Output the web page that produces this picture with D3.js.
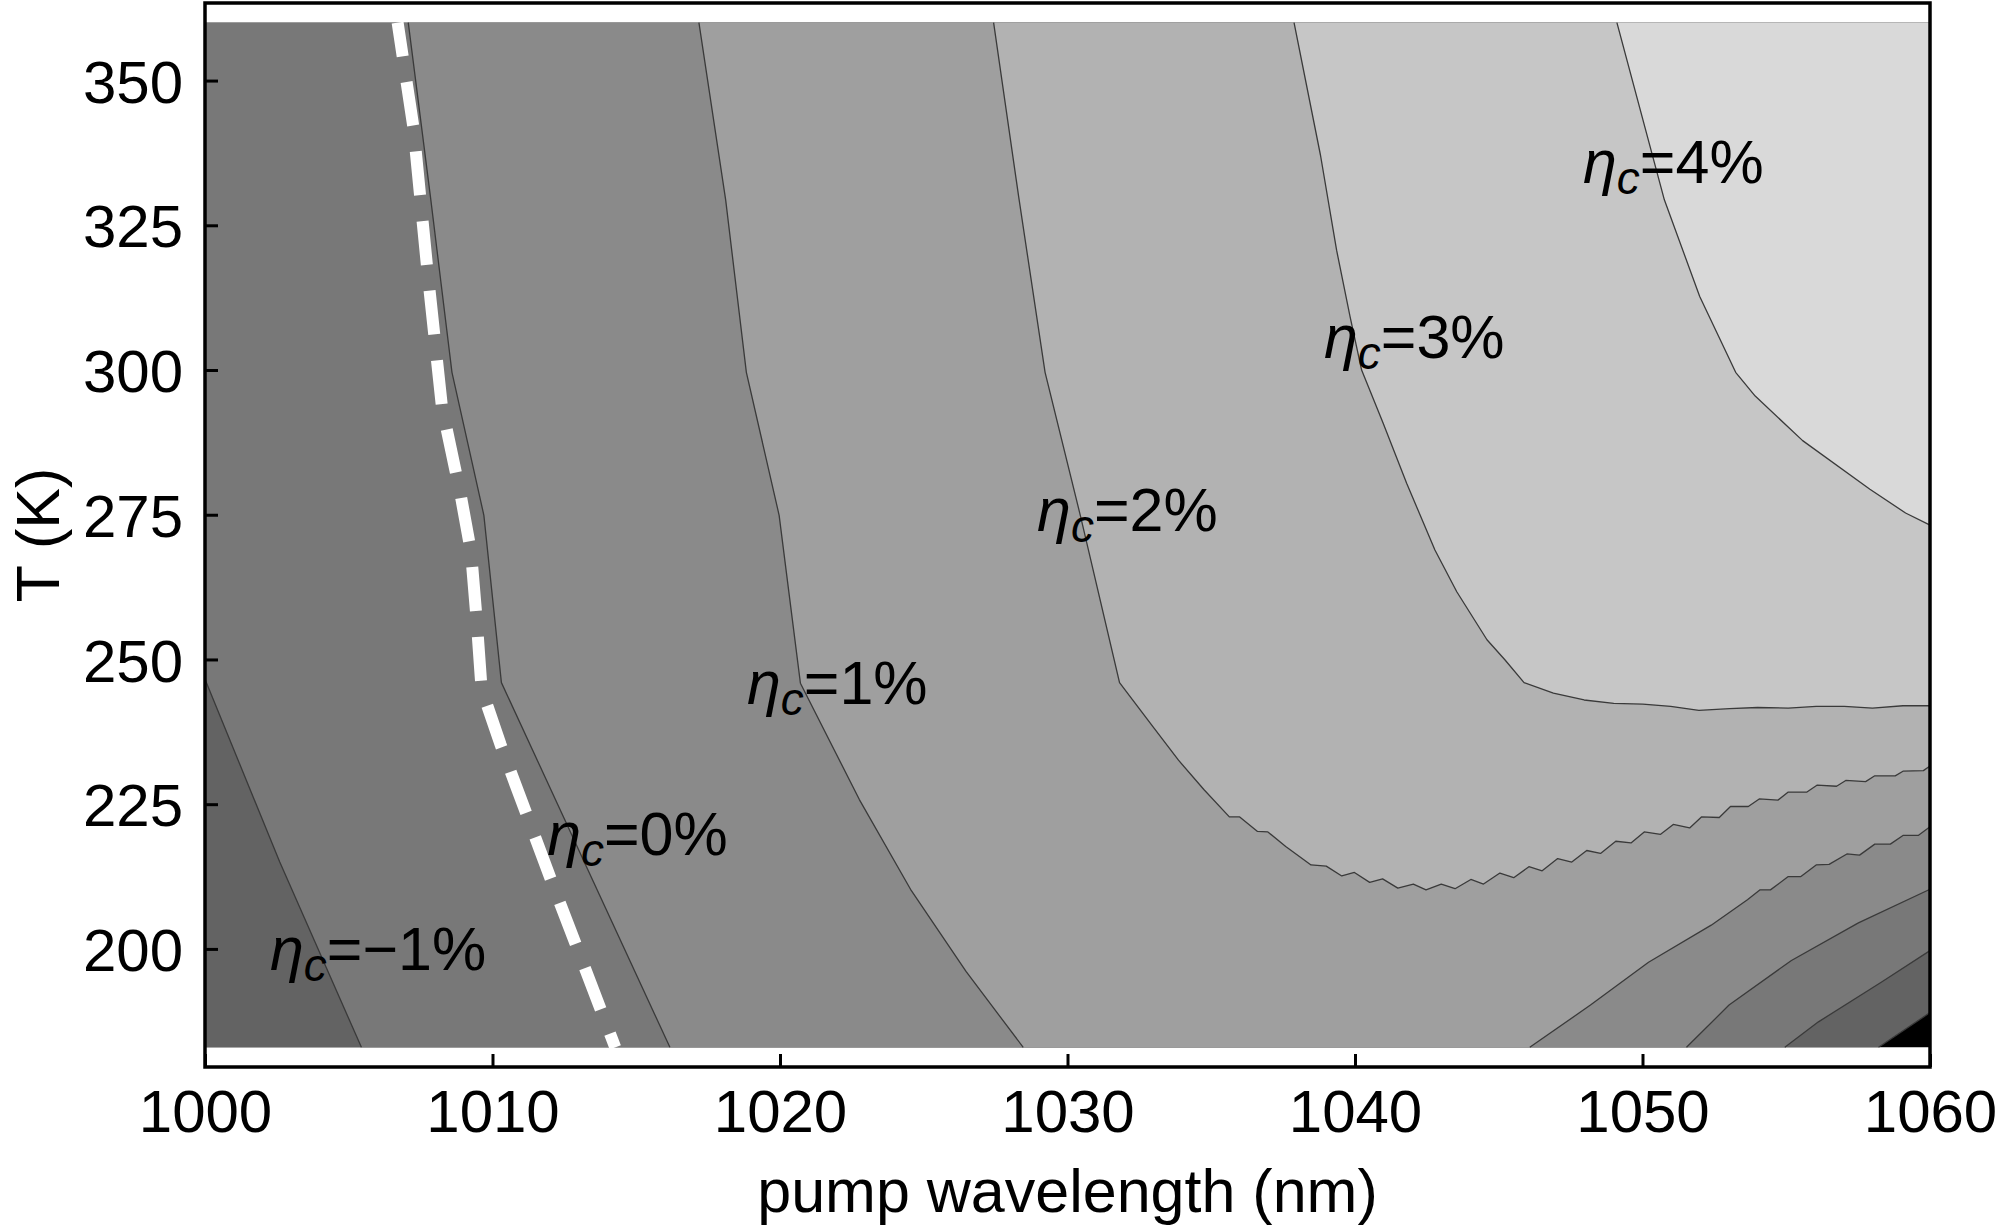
<!DOCTYPE html>
<html><head><meta charset="utf-8">
<script src="https://cdn.jsdelivr.net/npm/d3@7"></script>
<style>
body{margin:0;background:#fff}
svg{display:block}
text{font-family:"Liberation Sans",Arial,Helvetica,sans-serif}
</style>
</head><body>
<svg id="chart" width="2000" height="1230"></svg>
<script>
// ---- data ----
const xTicks = [1000, 1010, 1020, 1030, 1040, 1050, 1060];
const yTicks = [200, 225, 250, 275, 300, 325, 350];
const lambdaRange = [1000, 1060];
const tempRange = [183, 360];
const levels = [-2, -1, 0, 1, 2, 3, 4];
const bandColors = ["#000000", "#636363", "#787878", "#8a8a8a", "#9f9f9f", "#b2b2b2", "#c6c6c6", "#d9d9d9"];

// contour lines, [wavelength nm, T K]
const cM2 = [[1058.21,183],[1060,189.0]];
const cM1Left = [[1000,246.6],[1002.6,215],[1005.44,183]];
const cM1Right = [[1054.95,183],[1056.12,187.4],[1058.29,194.2],[1060,199.7]];
const c0Left = [[1007.07,360],[1007.84,330],[1008.59,299.6],[1009.70,274.9],[1010.31,246.0],[1016.17,183]];
const c0Right = [[1051.53,183],[1053.01,190.3],[1055.18,198.0],[1057.51,204.5],[1060,210.3]];
const c1Left = [[1017.18,360],[1018.11,329.4],[1018.83,299.6],[1019.97,274.9],[1020.71,245.9],[1022.76,225.8],[1024.54,210.3],[1026.47,196.1],[1028.46,183]];
const c1Right = [[1046.08,183],[1048.19,190.3],[1050.21,197.7],[1052.39,204.1],[1053.65,208.5],[1054.09,210.2],[1054.45,210.2],[1055.07,212.5],[1055.51,212.5],[1056.04,214.5],[1056.49,214.6],[1057.11,216.4],[1057.55,216.2],[1058.08,218.1],[1058.62,218.1],[1059.06,219.6],[1059.59,219.6],[1060,221.1]];
const c2 = [[1027.43,360],[1028.3,330],[1029.22,299.6],[1030.46,274.6],[1031.81,246.0],[1032.97,238.4],[1033.86,232.6],[1034.75,227.5],[1035.63,222.8],[1035.99,222.8],[1036.61,220.3],[1036.97,220.2],[1037.59,217.7],[1038.47,214.5],[1039.00,214.3],[1039.54,212.6],[1039.98,213.2],[1040.51,211.5],[1040.96,212.1],[1041.49,210.5],[1042.03,211.2],[1042.47,210.2],[1043.00,211.2],[1043.48,210.4],[1044.03,212.0],[1044.47,211.2],[1045.04,213.1],[1045.52,212.3],[1046.05,214.2],[1046.51,213.5],[1047.05,215.6],[1047.54,215.0],[1048.06,217.0],[1048.54,216.5],[1049.07,218.6],[1049.60,218.3],[1050.06,220.2],[1050.63,219.8],[1051.07,221.5],[1051.64,220.9],[1052.05,222.8],[1052.67,222.7],[1053.06,224.6],[1053.68,224.6],[1054.06,225.9],[1054.71,225.7],[1055.07,227.1],[1055.72,227.1],[1056.08,228.3],[1056.75,228.1],[1057.07,229.1],[1057.76,228.9],[1058.08,229.9],[1058.79,229.9],[1059.06,230.7],[1059.77,230.8],[1060,231.6]];
const c3 = [[1037.88,360],[1038.80,337.1],[1039.36,320.7],[1039.83,309.2],[1040.23,300.0],[1040.98,290.8],[1041.80,280.4],[1042.78,268.9],[1043.54,261.7],[1044.59,253.4],[1045.22,249.9],[1045.88,246.0],[1046.90,244.2],[1047.97,243.0],[1049.00,242.4],[1050.01,242.3],[1050.98,241.9],[1051.96,241.2],[1053.03,241.5],[1054.00,241.7],[1055.07,241.6],[1056.04,241.9],[1057.02,241.9],[1058.0,241.6],[1059.06,242.0],[1060,242.0]];
const c4 = [[1049.11,360],[1050.76,329.4],[1051.99,312.7],[1053.24,299.6],[1053.92,295.5],[1055.57,287.8],[1057.91,279.4],[1059.15,275.3],[1060,273.2]];

// white dashed line
const dashedLine = [[1006.70,360],[1007.25,341.9],[1007.73,317.5],[1008.24,293.7],[1008.90,278.2],[1009.25,268.7],[1009.45,256.8],[1009.62,244.9],[1010.28,235.3],[1012.07,211.5],[1014.27,183]];

// contour labels
const labelValues = ["\u22121", "0", "1", "2", "3", "4"];
const labelAnchors = [[1002.26,196.4],[1011.90,216.2],[1018.85,242.3],[1028.94,272.2],[1038.92,302.1],[1047.93,332.3]];

// ---- drawing ----
const svg = d3.select("#chart");
const x = d3.scaleLinear().domain(lambdaRange).range([205, 1930]);
const y = d3.scaleLinear().domain([179.6, 363.4]).range([1067, 3]);
const line = d3.line().x(d => x(d[0])).y(d => y(d[1]));

const TL = [lambdaRange[0], tempRange[1]], TR = [lambdaRange[1], tempRange[1]];
const BR = [lambdaRange[1], tempRange[0]], BL = [lambdaRange[0], tempRange[0]];

// superlevel regions (eta > level), from lowest to highest
const regions = [
  [TL, TR, BR, BL],
  [TL, TR, ...cM2.slice().reverse(), BL],
  [...cM1Left, ...cM1Right, TR, TL],
  [...c0Left, ...c0Right, TR],
  [...c1Left, ...c1Right, TR],
  [...c2, TR],
  [...c3, TR],
  [...c4, TR]
];

svg.append("g").selectAll("path").data(regions).join("path")
  .attr("d", d => line(d) + "Z")
  .attr("fill", (d, i) => bandColors[i])
  .attr("stroke", "none");

const contourLines = [cM2, cM1Left, cM1Right, c0Left, c0Right, c1Left, c1Right, c2, c3, c4];
svg.append("g").selectAll("path").data(contourLines).join("path")
  .attr("d", line)
  .attr("fill", "none")
  .attr("stroke", "#3a3a3a")
  .attr("stroke-width", 1.3)
  .attr("stroke-linejoin", "round");

svg.append("path").datum(dashedLine)
  .attr("d", line)
  .attr("fill", "none")
  .attr("stroke", "#fff")
  .attr("stroke-width", 12)
  .attr("stroke-dasharray", "44 26")
  .attr("stroke-dashoffset", 10)
  .attr("stroke-linecap", "butt");

// labels
const gLab = svg.append("g").attr("font-size", 61).attr("fill", "#000");
labelValues.forEach((v, i) => {
  const t = gLab.append("text")
    .attr("x", x(labelAnchors[i][0]))
    .attr("y", y(labelAnchors[i][1]));
  t.append("tspan").attr("font-style", "italic").text("\u03B7");
  t.append("tspan").attr("font-style", "italic").attr("font-size", 46).attr("dy", 11).text("c");
  t.append("tspan").attr("dy", -11).text("=" + v + "%");
});

// axes
const gx = svg.append("g")
  .attr("transform", `translate(0,${y.range()[0]})`)
  .call(d3.axisBottom(x).tickValues(xTicks).tickSize(-13).tickPadding(22).tickFormat(d3.format("d")));
gx.attr("font-size", 60).attr("font-family", "Liberation Sans, Arial, sans-serif");
gx.select(".domain").remove();
gx.selectAll(".tick line").attr("stroke", "#000").attr("stroke-width", 3);
gx.selectAll(".tick text").attr("fill", "#000");

const gy = svg.append("g")
  .attr("transform", `translate(${x.range()[0]},0)`)
  .call(d3.axisLeft(y).tickValues(yTicks).tickSize(-13).tickPadding(22).tickFormat(d3.format("d")));
gy.attr("font-size", 60).attr("font-family", "Liberation Sans, Arial, sans-serif");
gy.select(".domain").remove();
gy.selectAll(".tick line").attr("stroke", "#000").attr("stroke-width", 3);
gy.selectAll(".tick text").attr("fill", "#000").attr("dy", "0.36em");

// frame
svg.append("rect")
  .attr("x", x.range()[0]).attr("y", y.range()[1])
  .attr("width", x.range()[1] - x.range()[0])
  .attr("height", y.range()[0] - y.range()[1])
  .attr("fill", "none").attr("stroke", "#000").attr("stroke-width", 3.5);

// axis titles
svg.append("text")
  .attr("x", (x.range()[0] + x.range()[1]) / 2).attr("y", 1212)
  .attr("text-anchor", "middle").attr("font-size", 61).attr("fill", "#000")
  .text("pump wavelength (nm)");
svg.append("text")
  .attr("transform", `translate(59,${(y.range()[0] + y.range()[1]) / 2}) rotate(-90)`)
  .attr("text-anchor", "middle").attr("font-size", 61).attr("fill", "#000")
  .text("T (K)");
</script>
</body></html>
